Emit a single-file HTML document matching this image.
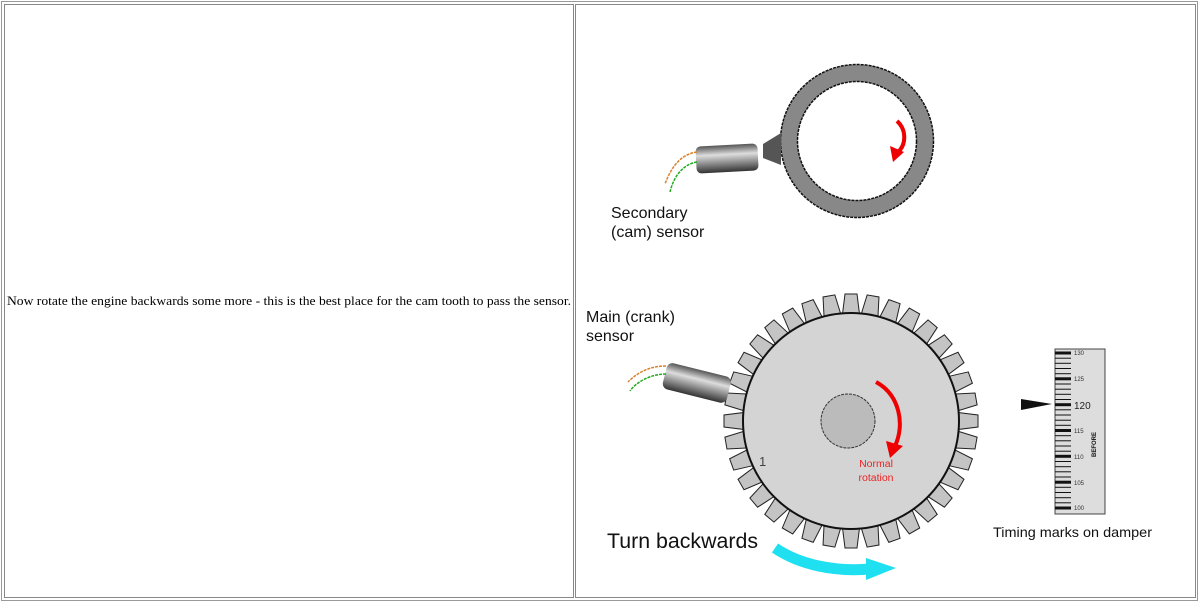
<!DOCTYPE html>
<html><head><meta charset="utf-8"><style>
html,body{margin:0;padding:0;background:#fff;}
svg{display:block}
</style></head><body>
<svg width="1200" height="604" viewBox="0 0 1200 604" xmlns="http://www.w3.org/2000/svg">
<defs>
<linearGradient id="cyl" x1="0" y1="0" x2="0" y2="1">
<stop offset="0" stop-color="#555"/><stop offset="0.35" stop-color="#ddd"/><stop offset="1" stop-color="#333"/>
</linearGradient>
<polygon id="tooth" points="842,318 845,294 857,294 860,318" fill="#c4c4c4" stroke="#222" stroke-width="1"/>
</defs>
<rect x="1.5" y="1.5" width="1196" height="599" fill="none" stroke="#999" stroke-width="1"/>
<rect x="4.5" y="4.5" width="569" height="593" fill="none" stroke="#888" stroke-width="1"/>
<rect x="575.5" y="4.5" width="620" height="593" fill="none" stroke="#888" stroke-width="1"/>

<text x="7" y="305" font-family="Liberation Serif, serif" font-size="13" textLength="564" lengthAdjust="spacingAndGlyphs" fill="#000">Now rotate the engine backwards some more - this is the best place for the cam tooth to pass the sensor.</text>

<circle cx="857" cy="141" r="68" fill="none" stroke="#888" stroke-width="17"/>
<circle cx="857" cy="141" r="76.5" fill="none" stroke="#111" stroke-width="1.5" stroke-dasharray="3 1"/>
<circle cx="857" cy="141" r="59.5" fill="none" stroke="#111" stroke-width="1.5" stroke-dasharray="3 1"/>
<polygon points="763,144 781,133 781,165 763,158" fill="#555"/>
<g transform="rotate(-3 727 158)">
<rect x="696" y="145" width="62" height="27" rx="5" fill="url(#cyl)"/>
</g>
<path d="M697,152 C682,154 672,165 665,184" fill="none" stroke="#d9822b" stroke-width="1.5" stroke-dasharray="3 1"/>
<path d="M697,162 C684,164 674,175 670,192" fill="none" stroke="#2a2" stroke-width="1.5" stroke-dasharray="3 1"/>
<path d="M897,121 C907,130 906,145 898,152" fill="none" stroke="#e00" stroke-width="4"/>
<polygon points="890,146 904,152 893,162" fill="#e00"/>
<text x="611" y="218" font-family="Liberation Sans, sans-serif" font-size="16" fill="#111">Secondary</text>
<text x="611" y="237" font-family="Liberation Sans, sans-serif" font-size="16" fill="#111">(cam) sensor</text>

<g>
<use href="#tooth"/><use href="#tooth" transform="rotate(10 851 421)"/><use href="#tooth" transform="rotate(20 851 421)"/><use href="#tooth" transform="rotate(30 851 421)"/><use href="#tooth" transform="rotate(40 851 421)"/><use href="#tooth" transform="rotate(50 851 421)"/><use href="#tooth" transform="rotate(60 851 421)"/><use href="#tooth" transform="rotate(70 851 421)"/><use href="#tooth" transform="rotate(80 851 421)"/><use href="#tooth" transform="rotate(90 851 421)"/><use href="#tooth" transform="rotate(100 851 421)"/><use href="#tooth" transform="rotate(110 851 421)"/><use href="#tooth" transform="rotate(120 851 421)"/><use href="#tooth" transform="rotate(130 851 421)"/><use href="#tooth" transform="rotate(140 851 421)"/><use href="#tooth" transform="rotate(150 851 421)"/><use href="#tooth" transform="rotate(160 851 421)"/><use href="#tooth" transform="rotate(170 851 421)"/><use href="#tooth" transform="rotate(180 851 421)"/><use href="#tooth" transform="rotate(190 851 421)"/><use href="#tooth" transform="rotate(200 851 421)"/><use href="#tooth" transform="rotate(210 851 421)"/><use href="#tooth" transform="rotate(220 851 421)"/><use href="#tooth" transform="rotate(230 851 421)"/><use href="#tooth" transform="rotate(240 851 421)"/><use href="#tooth" transform="rotate(250 851 421)"/><use href="#tooth" transform="rotate(260 851 421)"/><use href="#tooth" transform="rotate(270 851 421)"/><use href="#tooth" transform="rotate(280 851 421)"/><use href="#tooth" transform="rotate(290 851 421)"/><use href="#tooth" transform="rotate(300 851 421)"/><use href="#tooth" transform="rotate(310 851 421)"/><use href="#tooth" transform="rotate(320 851 421)"/><use href="#tooth" transform="rotate(330 851 421)"/><use href="#tooth" transform="rotate(340 851 421)"/><use href="#tooth" transform="rotate(350 851 421)"/>
</g>
<circle cx="851" cy="421" r="108" fill="#d4d4d4" stroke="#111" stroke-width="2"/>
<circle cx="848" cy="421" r="27" fill="#bbb" stroke="#333" stroke-width="1" stroke-dasharray="3 1"/>
<text x="759" y="466" font-family="Liberation Sans, sans-serif" font-size="13" fill="#444">1</text>
<path d="M876,382 C900,395 905,425 895,446" fill="none" stroke="#e00" stroke-width="4"/>
<polygon points="886,441 903,446 890,458" fill="#e00"/>
<text x="876" y="467" text-anchor="middle" font-family="Liberation Sans, sans-serif" font-size="10.5" fill="#e22">Normal</text>
<text x="876" y="481" text-anchor="middle" font-family="Liberation Sans, sans-serif" font-size="10.5" fill="#e22">rotation</text>

<g transform="rotate(14 695 382)">
<rect x="664" y="369" width="66" height="27" rx="6" fill="url(#cyl)"/>
</g>
<path d="M666,366 C650,366 638,372 628,382" fill="none" stroke="#d9822b" stroke-width="1.5" stroke-dasharray="3 1"/>
<path d="M666,374 C651,374 636,382 630,391" fill="none" stroke="#2a2" stroke-width="1.5" stroke-dasharray="3 1"/>
<text x="586" y="322" font-family="Liberation Sans, sans-serif" font-size="16" fill="#111">Main (crank)</text>
<text x="586" y="341" font-family="Liberation Sans, sans-serif" font-size="16" fill="#111">sensor</text>

<text x="607" y="548" font-family="Liberation Sans, sans-serif" font-size="21" textLength="151" lengthAdjust="spacingAndGlyphs" fill="#111">Turn backwards</text>
<path d="M775,548 C800,565 835,572 870,569" fill="none" stroke="#1fe0f0" stroke-width="11"/>
<polygon points="866,558 896,568 866,580" fill="#1fe0f0"/>

<rect x="1055" y="349" width="50" height="165" fill="#ddd" stroke="#444" stroke-width="1"/>
<g stroke="#111">
<line x1="1055" y1="353" x2="1071" y2="353" stroke-width="3"/>
<line x1="1055" y1="358.2" x2="1071" y2="358.2" stroke-width="1"/>
<line x1="1055" y1="363.3" x2="1071" y2="363.3" stroke-width="1"/>
<line x1="1055" y1="368.5" x2="1071" y2="368.5" stroke-width="1"/>
<line x1="1055" y1="373.7" x2="1071" y2="373.7" stroke-width="1"/>
<line x1="1055" y1="378.8" x2="1071" y2="378.8" stroke-width="3"/>
<line x1="1055" y1="384" x2="1071" y2="384" stroke-width="1"/>
<line x1="1055" y1="389.2" x2="1071" y2="389.2" stroke-width="1"/>
<line x1="1055" y1="394.3" x2="1071" y2="394.3" stroke-width="1"/>
<line x1="1055" y1="399.5" x2="1071" y2="399.5" stroke-width="1"/>
<line x1="1055" y1="404.7" x2="1071" y2="404.7" stroke-width="3"/>
<line x1="1055" y1="409.8" x2="1071" y2="409.8" stroke-width="1"/>
<line x1="1055" y1="415" x2="1071" y2="415" stroke-width="1"/>
<line x1="1055" y1="420.2" x2="1071" y2="420.2" stroke-width="1"/>
<line x1="1055" y1="425.3" x2="1071" y2="425.3" stroke-width="1"/>
<line x1="1055" y1="430.5" x2="1071" y2="430.5" stroke-width="3"/>
<line x1="1055" y1="435.7" x2="1071" y2="435.7" stroke-width="1"/>
<line x1="1055" y1="440.8" x2="1071" y2="440.8" stroke-width="1"/>
<line x1="1055" y1="446" x2="1071" y2="446" stroke-width="1"/>
<line x1="1055" y1="451.2" x2="1071" y2="451.2" stroke-width="1"/>
<line x1="1055" y1="456.3" x2="1071" y2="456.3" stroke-width="3"/>
<line x1="1055" y1="461.5" x2="1071" y2="461.5" stroke-width="1"/>
<line x1="1055" y1="466.7" x2="1071" y2="466.7" stroke-width="1"/>
<line x1="1055" y1="471.8" x2="1071" y2="471.8" stroke-width="1"/>
<line x1="1055" y1="477" x2="1071" y2="477" stroke-width="1"/>
<line x1="1055" y1="482.2" x2="1071" y2="482.2" stroke-width="3"/>
<line x1="1055" y1="487.3" x2="1071" y2="487.3" stroke-width="1"/>
<line x1="1055" y1="492.5" x2="1071" y2="492.5" stroke-width="1"/>
<line x1="1055" y1="497.7" x2="1071" y2="497.7" stroke-width="1"/>
<line x1="1055" y1="502.8" x2="1071" y2="502.8" stroke-width="1"/>
<line x1="1055" y1="508" x2="1071" y2="508" stroke-width="3"/>
</g>
<g font-family="Liberation Sans, sans-serif" font-size="6" fill="#333">
<text x="1074" y="355">130</text><text x="1074" y="381">125</text>
<text x="1074" y="433">115</text><text x="1074" y="459">110</text>
<text x="1074" y="485">105</text><text x="1074" y="510">100</text>
</g>
<text x="1074" y="409" font-family="Liberation Sans, sans-serif" font-size="10" fill="#222">120</text>
<text transform="translate(1096 457) rotate(-90)" font-family="Liberation Sans, sans-serif" font-size="6" font-weight="bold" fill="#111">BEFORE</text>
<polygon points="1021,399 1052,404 1021,410" fill="#111"/>
<text x="993" y="537" font-family="Liberation Sans, sans-serif" font-size="14" textLength="159" lengthAdjust="spacingAndGlyphs" fill="#111">Timing marks on damper</text>
</svg>
</body></html>
